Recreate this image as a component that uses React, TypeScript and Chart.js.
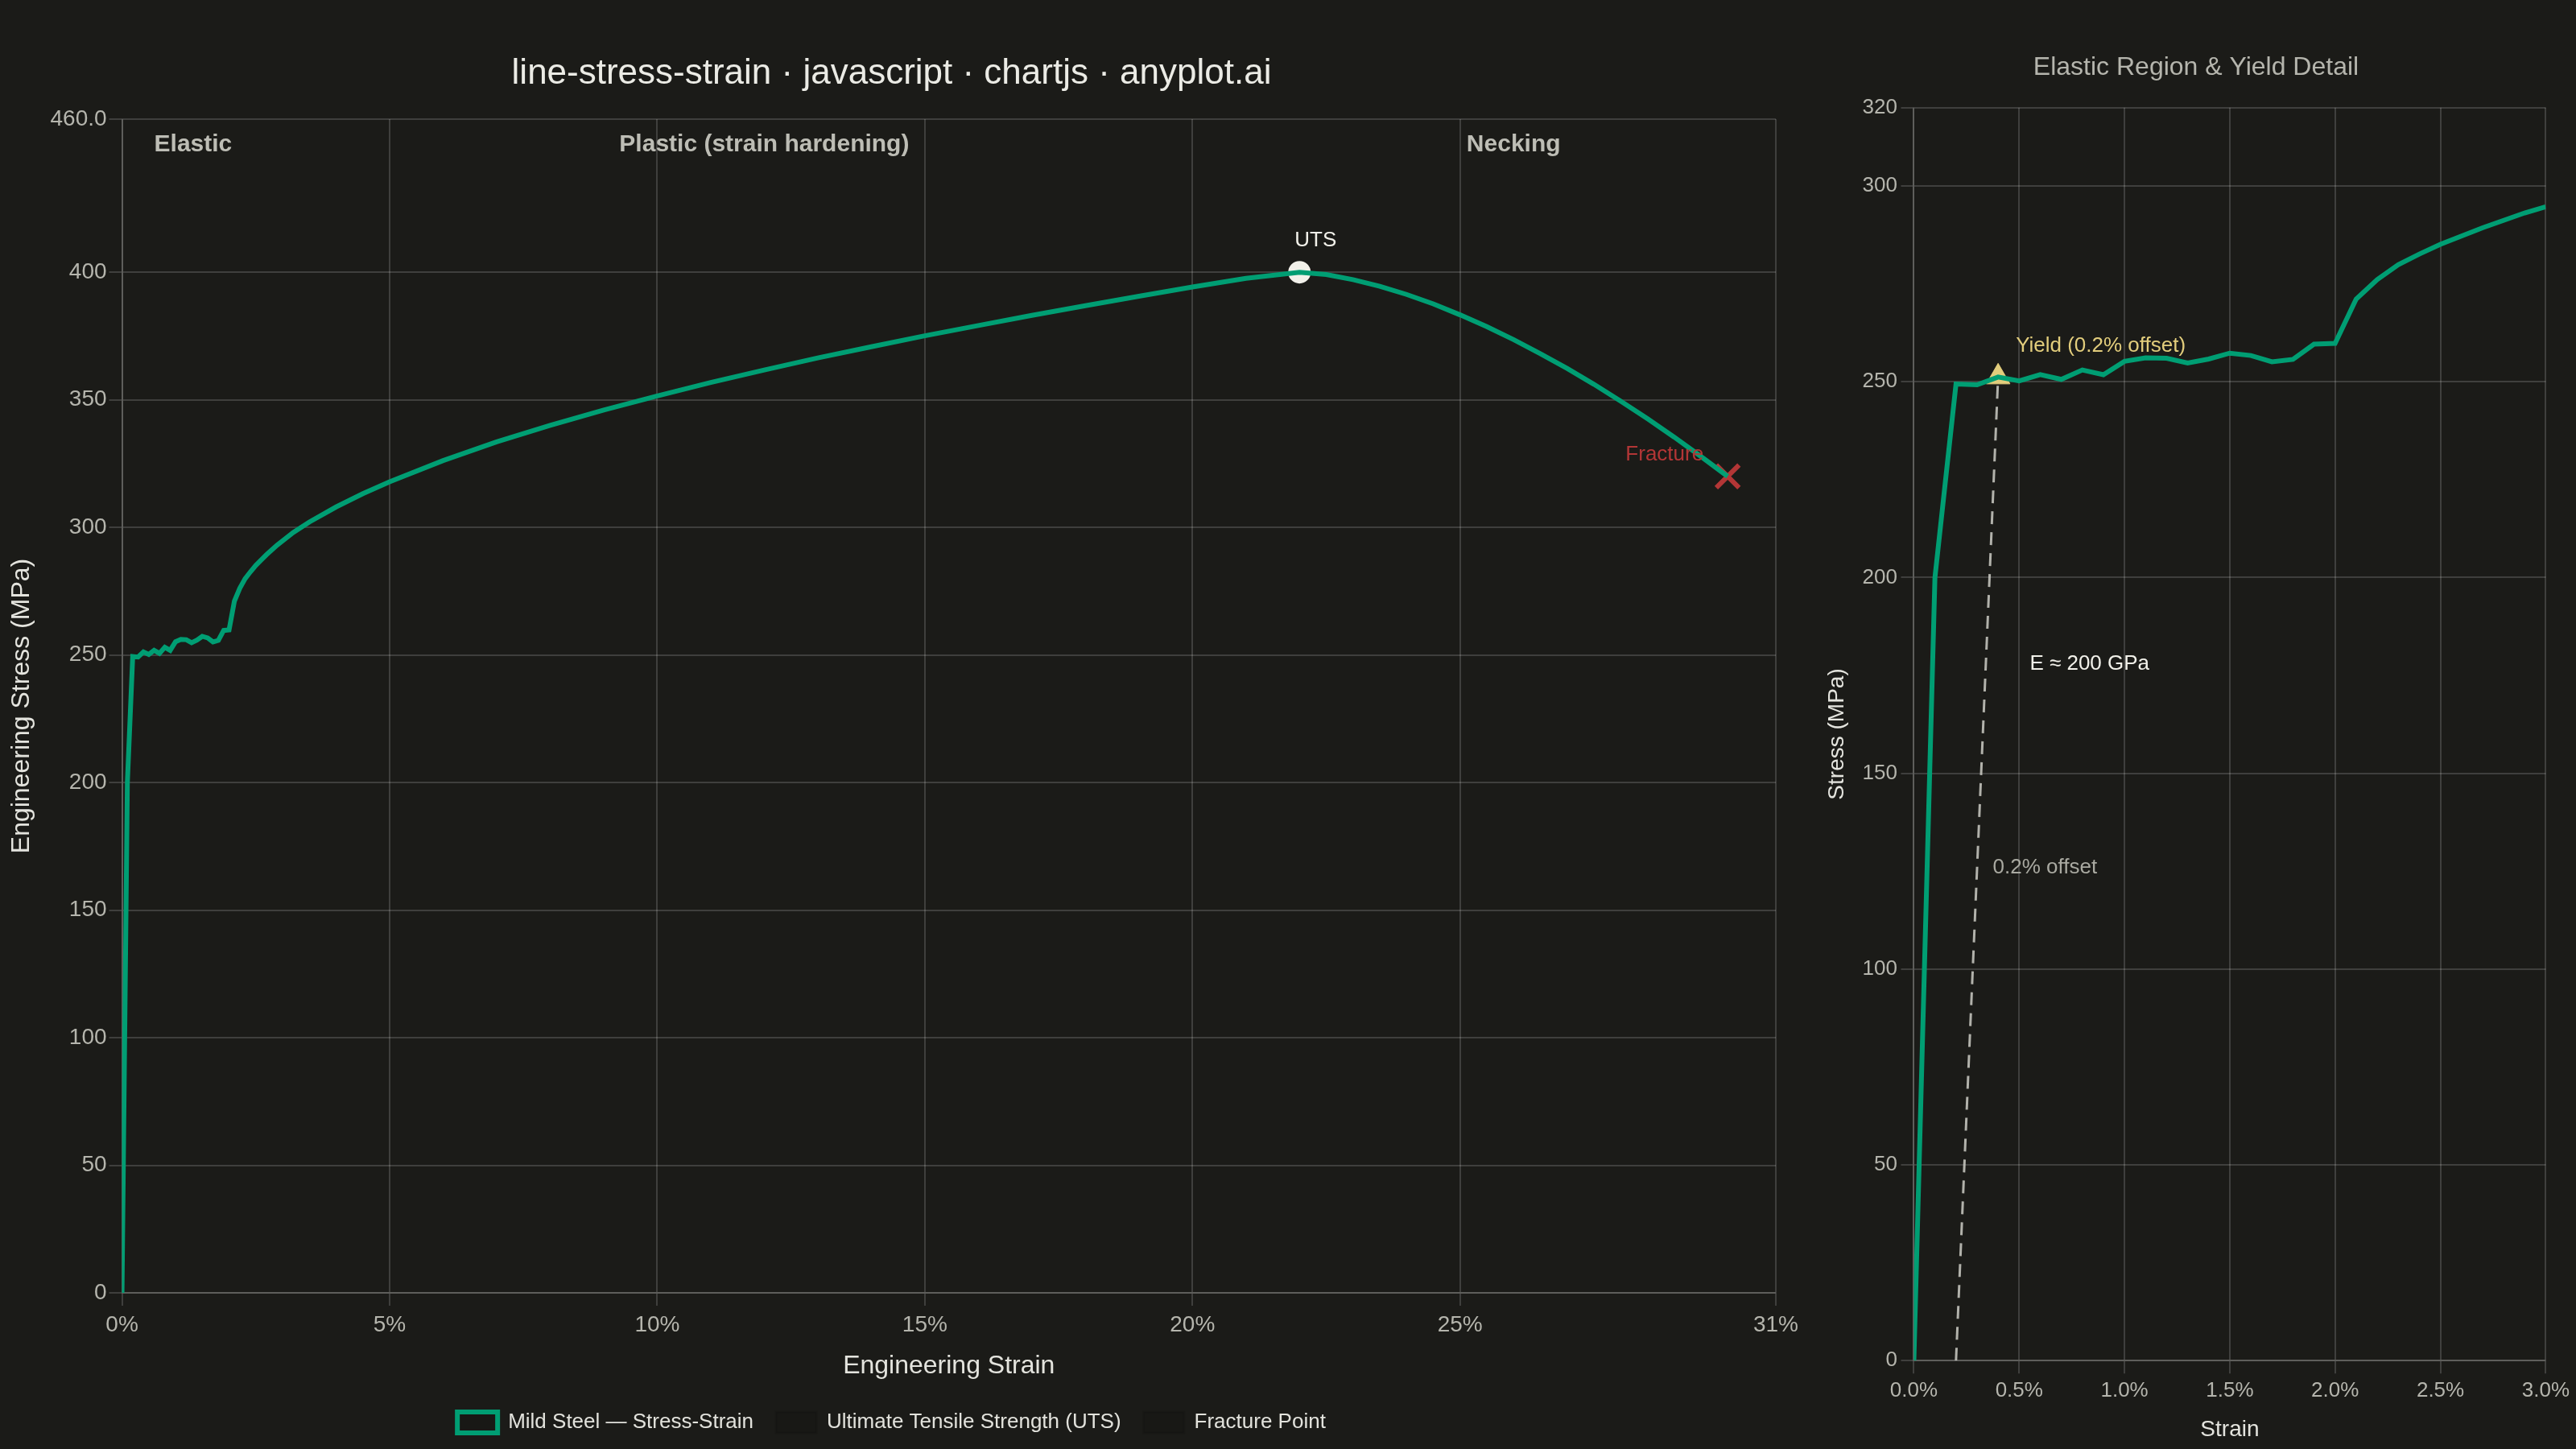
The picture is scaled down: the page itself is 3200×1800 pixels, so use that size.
import { useEffect, useRef } from 'react';
import { Chart, registerables, type ChartConfiguration, type Plugin } from 'chart.js';

Chart.register(...registerables);

const BG = '#1b1b18';
const GRID = 'rgba(255,255,255,0.16)';
const TICK = '#b5b5ad';
const AXIS_TITLE = '#e4e4de';
const TITLE = '#ebebe5';
const REGION_COLOR = '#bdbdb5';
const GREEN = '#009e73';
const RED = '#b33636';
const GOLD = '#e2cd7c';
const WHITE = '#f2f1ea';
const FONT = '"Liberation Sans", Arial, Helvetica, sans-serif';

// engineering strain (fraction) / engineering stress (MPa)
const STRAIN = [
  0, 0.001, 0.002, 0.003, 0.004, 0.005, 0.006, 0.007, 0.008, 0.009, 0.01,
  0.011, 0.012, 0.013, 0.014, 0.015, 0.016, 0.017, 0.018, 0.019, 0.02,
  0.021, 0.022, 0.023, 0.024, 0.025, 0.026, 0.027, 0.028, 0.029, 0.03,
  0.032, 0.035, 0.04, 0.045, 0.05, 0.06, 0.07, 0.08, 0.09, 0.1,
  0.11, 0.12, 0.13, 0.14, 0.15, 0.16, 0.17, 0.18, 0.19, 0.2,
  0.21, 0.22, 0.225, 0.23, 0.235, 0.24, 0.245, 0.25, 0.255, 0.26,
  0.265, 0.27, 0.275, 0.28, 0.285, 0.29, 0.295, 0.3,
];
const STRESS = [
  0, 200, 249.4, 249.2, 251.2, 250.2, 251.8, 250.6, 253.0, 251.8, 255.2,
  256.1, 256.0, 254.8, 255.8, 257.3, 256.7, 255.1, 255.7, 259.6, 259.8,
  271.1, 276.1, 279.9, 282.6, 285.1, 287.2, 289.3, 291.2, 293.1, 294.7,
  298.0, 302.1, 308.0, 313.2, 317.9, 326.2, 333.5, 340.0, 346.0, 351.5,
  356.8, 361.7, 366.4, 370.8, 375.1, 379.1, 383.1, 386.9, 390.6, 394.2,
  397.6, 400.0, 399.1, 397.1, 394.5, 391.3, 387.6, 383.3, 378.7, 373.6,
  368.1, 362.3, 356.1, 349.5, 342.6, 335.4, 327.8, 320.0,
];

const UTS = { x: 0.22, y: 400 };
const FRACTURE = { x: 0.3, y: 320 };
const YIELD = { x: 0.004, y: 251.2 };
const OFFSET_STRAIN = [0.002, 0.004];
const OFFSET_STRESS = [0, 251.2];

const REGION_NAMES = ['Elastic', 'Plastic (strain hardening)', 'Necking'];
const REGION_EDGES = [0, 0.02, 0.22, 0.3];

const MAIN_X_MAX = 0.309;
const MAIN_X_TICKS = [0, 0.05, 0.1, 0.15, 0.2, 0.25, 0.309];
const MAIN_Y_TICKS = [0, 50, 100, 150, 200, 250, 300, 350, 400, 460];
const DETAIL_X_TICKS = [0, 0.005, 0.01, 0.015, 0.02, 0.025, 0.03];
const DETAIL_Y_TICKS = [0, 50, 100, 150, 200, 250, 300, 320];

const toPoints = (xs: number[], ys: number[]) => xs.map((x, i) => ({ x, y: ys[i] }));

type Note = { x: number; y: number; text: string; color: string; font: string; align: CanvasTextAlign; dx: number; dy: number };

function notesPlugin(id: string, notes: Note[]): Plugin {
  return {
    id,
    afterDatasetsDraw(chart) {
      const { ctx, scales } = chart;
      ctx.save();
      ctx.textBaseline = 'middle';
      for (const n of notes) {
        ctx.font = n.font;
        ctx.fillStyle = n.color;
        ctx.textAlign = n.align;
        ctx.fillText(n.text, scales.x.getPixelForValue(n.x) + n.dx, scales.y.getPixelForValue(n.y) + n.dy);
      }
      ctx.restore();
    },
  };
}

const regionPlugin: Plugin = {
  id: 'regions',
  afterDatasetsDraw(chart) {
    const { ctx, chartArea, scales } = chart;
    ctx.save();
    ctx.font = `bold 30px ${FONT}`;
    ctx.fillStyle = REGION_COLOR;
    ctx.textAlign = 'center';
    ctx.textBaseline = 'middle';
    REGION_NAMES.forEach((name, i) => {
      const mid = (scales.x.getPixelForValue(REGION_EDGES[i]) + scales.x.getPixelForValue(REGION_EDGES[i + 1])) / 2;
      const w = ctx.measureText(name).width;
      ctx.fillText(name, Math.max(mid, chartArea.left + 40 + w / 2), chartArea.top + 32);
    });
    ctx.restore();
  },
};

const axisTicks = (list: number[]) => (scale: any) => {
  scale.ticks = list.map((value) => ({ value }));
};

const mainConfig: ChartConfiguration = {
  type: 'scatter',
  data: {
    datasets: [
      {
        label: 'Mild Steel — Stress-Strain',
        data: toPoints(STRAIN, STRESS),
        showLine: true,
        borderColor: GREEN,
        borderWidth: 6,
        pointRadius: 0,
        tension: 0,
      },
      {
        label: 'Ultimate Tensile Strength (UTS)',
        data: [UTS],
        showLine: true,
        pointStyle: 'circle',
        pointRadius: 13,
        pointBackgroundColor: WHITE,
        pointBorderColor: WHITE,
        pointBorderWidth: 2,
      } as any,
      {
        label: 'Fracture Point',
        data: [FRACTURE],
        showLine: true,
        pointStyle: 'crossRot',
        pointRadius: 20,
        pointBorderColor: RED,
        pointBorderWidth: 6,
      } as any,
    ],
  },
  options: {
    responsive: true,
    maintainAspectRatio: false,
    animation: false,
    events: [],
    layout: { padding: { bottom: 10 } },
    plugins: {
      colors: { enabled: false },
      tooltip: { enabled: false },
      title: {
        display: true,
        text: 'line-stress-strain · javascript · chartjs · anyplot.ai',
        color: TITLE,
        font: { family: FONT, size: 44, weight: 'normal' },
        padding: { top: 65.6, bottom: 29.6 },
      },
      legend: {
        position: 'bottom',
        labels: { color: '#e2e2dc', font: { family: FONT, size: 26 }, boxWidth: 50, boxHeight: 26, padding: 28 },
      },
    } as any,
    scales: {
      x: {
        type: 'linear',
        min: 0,
        max: MAIN_X_MAX,
        afterBuildTicks: axisTicks(MAIN_X_TICKS),
        ticks: {
          color: TICK,
          font: { family: FONT, size: 28 },
          padding: 7,
          callback: (v: any) => Math.round(Number(v) * 100) + '%',
        },
        grid: { color: GRID, lineWidth: 2, tickLength: 16 },
        border: { color: GRID, width: 2 },
        title: {
          display: true,
          text: 'Engineering Strain',
          color: AXIS_TITLE,
          font: { family: FONT, size: 32 },
          padding: { top: 8, bottom: 10 },
        },
      },
      y: {
        type: 'linear',
        min: 0,
        max: 460,
        afterBuildTicks: axisTicks(MAIN_Y_TICKS),
        ticks: {
          color: TICK,
          font: { family: FONT, size: 28 },
          padding: 3,
          callback: (v: any) => (Number(v) % 50 === 0 ? String(v) : Number(v).toFixed(1)),
        },
        grid: { color: GRID, lineWidth: 2, tickLength: 16 },
        border: { color: GRID, width: 2 },
        title: {
          display: true,
          text: 'Engineering Stress (MPa)',
          color: AXIS_TITLE,
          font: { family: FONT, size: 32 },
          padding: { top: 33.5, bottom: 13.6 },
        },
      },
    },
  },
  plugins: [
    regionPlugin,
    notesPlugin('mainNotes', [
      { x: UTS.x, y: UTS.y, text: 'UTS', color: WHITE, font: `26px ${FONT}`, align: 'center', dx: 20, dy: -39 },
      { x: FRACTURE.x, y: FRACTURE.y, text: 'Fracture', color: RED, font: `26px ${FONT}`, align: 'right', dx: -30, dy: -27 },
    ]),
  ],
};

const detailConfig: ChartConfiguration = {
  type: 'scatter',
  data: {
    datasets: [
      {
        label: 'Mild Steel — Stress-Strain',
        data: toPoints(STRAIN, STRESS),
        showLine: true,
        borderColor: GREEN,
        borderWidth: 6,
        pointRadius: 0,
        tension: 0,
      },
      {
        label: 'Yield (0.2% offset)',
        data: [YIELD],
        pointStyle: 'triangle',
        pointRadius: 17,
        pointBackgroundColor: GOLD,
        pointBorderColor: GOLD,
        pointBorderWidth: 1,
      } as any,
      {
        label: '0.2% offset',
        data: toPoints(OFFSET_STRAIN, OFFSET_STRESS),
        showLine: true,
        borderColor: 'rgba(205,205,198,0.85)',
        borderWidth: 3,
        borderDash: [16, 10],
        pointRadius: 0,
      },
    ],
  },
  options: {
    responsive: true,
    maintainAspectRatio: false,
    animation: false,
    events: [],
    layout: { padding: { bottom: 0 } },
    plugins: {
      colors: { enabled: false },
      tooltip: { enabled: false },
      legend: { display: false },
      title: {
        display: true,
        text: 'Elastic Region & Yield Detail',
        color: TICK,
        font: { family: FONT, size: 32, weight: 'normal' },
        padding: { top: 64.8, bottom: 30.5 },
      },
    } as any,
    scales: {
      x: {
        type: 'linear',
        min: 0,
        max: 0.03,
        afterBuildTicks: axisTicks(DETAIL_X_TICKS),
        ticks: {
          color: TICK,
          font: { family: FONT, size: 26 },
          padding: 6,
          callback: (v: any) => (Number(v) * 100).toFixed(1) + '%',
        },
        grid: { color: GRID, lineWidth: 2, tickLength: 16 },
        border: { color: GRID, width: 2 },
        title: {
          display: true,
          text: 'Strain',
          color: AXIS_TITLE,
          font: { family: FONT, size: 28 },
          padding: { top: 10, bottom: 7 },
        },
      },
      y: {
        type: 'linear',
        min: 0,
        max: 320,
        afterBuildTicks: axisTicks(DETAIL_Y_TICKS),
        ticks: { color: TICK, font: { family: FONT, size: 26 }, padding: 4.5 },
        grid: { color: GRID, lineWidth: 2, tickLength: 16 },
        border: { color: GRID, width: 2 },
        title: {
          display: true,
          text: 'Stress (MPa)',
          color: AXIS_TITLE,
          font: { family: FONT, size: 28 },
          padding: { top: 7.2, bottom: 10.3 },
        },
      },
    },
  },
  plugins: [
    notesPlugin('detailNotes', [
      { x: YIELD.x, y: YIELD.y, text: 'Yield (0.2% offset)', color: GOLD, font: `26px ${FONT}`, align: 'left', dx: 22, dy: -39 },
      { x: 0.0055, y: 178, text: 'E ≈ 200 GPa', color: WHITE, font: `26px ${FONT}`, align: 'left', dx: 0, dy: 0 },
      { x: 0.00375, y: 126, text: '0.2% offset', color: '#a9a9a1', font: `26px ${FONT}`, align: 'left', dx: 0, dy: 0 },
    ]),
  ],
};

export default function App() {
  const mainRef = useRef<HTMLCanvasElement>(null);
  const detailRef = useRef<HTMLCanvasElement>(null);

  useEffect(() => {
    if (!mainRef.current || !detailRef.current) return;
    const main = new Chart(mainRef.current, mainConfig);
    const detail = new Chart(detailRef.current, detailConfig);
    return () => {
      main.destroy();
      detail.destroy();
    };
  }, []);

  return (
    <div style={{ position: 'fixed', left: 0, top: 0, width: 3200, height: 1800, background: BG, overflow: 'hidden' }}>
      <div style={{ position: 'absolute', left: -26, top: 0, width: 2267, height: 1800 }}>
        <canvas ref={mainRef} />
      </div>
      <div style={{ position: 'absolute', left: 2258, top: 0, width: 940, height: 1800 }}>
        <canvas ref={detailRef} />
      </div>
    </div>
  );
}
